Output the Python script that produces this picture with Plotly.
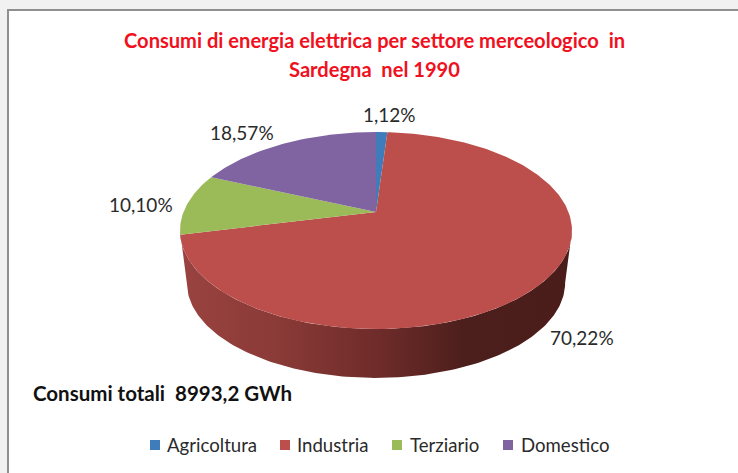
import numpy as np
import plotly.graph_objects as go

categories = ["Agricoltura", "Industria", "Terziario", "Domestico"]
values = [1.12, 70.22, 10.10, 18.57]
labels = ["1,12%", "70,22%", "10,10%", "18,57%"]
colors = ["#3f7cbc", "#bc4f4c", "#9bbb59", "#8064a2"]
title_lines = ["Consumi di energia elettrica per settore merceologico  in", "Sardegna  nel 1990"]
total_note = "Consumi totali  8993,2 GWh"

# projection of the tilted disc onto the page (pixels)
CX, CY, RX, RY, K = 376.0, 212.0, 192.5, 95.0, 0.188
DROP, SHRINK = 53.0, 0.965


def project(theta, scale=1.0, dy=0.0):
    u, v = np.sin(theta), np.cos(theta)
    d = 1 + K * v
    return CX + scale * RX * u / d, CY + dy - scale * RY * v / d


fig = go.Figure()

# side wall: front rim between the two widest points, extruded downward
widest = np.degrees(np.arccos(-K))
front = np.radians(np.linspace(widest, 360 - widest, 160))
xt, yt = project(front)
xb, yb = project(front, scale=SHRINK, dy=DROP)
fig.add_trace(go.Scatter(
    x=np.r_[xt, xb[::-1]], y=np.r_[yt, yb[::-1]], mode="lines", fill="toself",
    line=dict(width=0), hoverinfo="skip", showlegend=False,
    fillgradient=dict(type="horizontal", colorscale=[
        [0.0, "#9a4340"], [0.25, "#8a3a37"], [0.5, "#6f2c2a"],
        [0.72, "#4d1f1c"], [1.0, "#4a1d1a"]]),
))

# top face slices, clockwise from twelve o'clock
start = 0.0
shares = np.array(values) / sum(values)
for name, share, color in zip(categories, shares, colors):
    th = np.linspace(start, start + share, max(3, int(share * 400))) * 2 * np.pi
    x, y = project(th)
    fig.add_trace(go.Scatter(
        x=np.r_[CX, x, CX], y=np.r_[CY, y, CY], mode="lines", fill="toself",
        fillcolor=color, line=dict(width=0), name=name, hoverinfo="name", showlegend=False,
    ))
    start += share

# legend row: swatch and label for each category
LEGEND_Y = 445
legend_swatch_x = [155, 285, 397, 508]
legend_text_x = [165, 295, 408, 519]
fig.add_trace(go.Scatter(
    x=legend_swatch_x, y=[LEGEND_Y] * 4, mode="markers", hoverinfo="skip", showlegend=False,
    marker=dict(symbol="square", size=10, color=colors),
))
for name, tx in zip(categories, legend_text_x):
    fig.add_annotation(x=tx, y=LEGEND_Y, xanchor="left", text=name, showarrow=False,
                       font=dict(family="Lato", size=18.6, color="#2a2a2a"))

label_pos = [(389, 114), (582, 337), (141, 204), (242, 132)]
for text, (px, py) in zip(labels, label_pos):
    fig.add_annotation(x=px, y=py, text=text, showarrow=False,
                       font=dict(family="Lato", size=19, color="#2a2a2a"))

for line, py in zip(title_lines, (40, 69)):
    fig.add_annotation(x=374, y=py, text=line, showarrow=False,
                       font=dict(family="Lato", size=20.1, color="#f01020", weight="bold"))
fig.add_annotation(x=31, y=393, xanchor="left", text=total_note, showarrow=False,
                   font=dict(family="Lato", size=20.5, color="#111111", weight="bold"))

fig.update_layout(
    width=738, height=473, margin=dict(l=0, r=0, t=0, b=0), showlegend=False,
    paper_bgcolor="#f1f1f1", plot_bgcolor="#f1f1f1",
    xaxis=dict(range=[0, 738], visible=False, fixedrange=True),
    yaxis=dict(range=[473, 0], visible=False, fixedrange=True),
    shapes=[dict(type="rect", xref="x", yref="y", x0=8, y0=10, x1=745, y1=480,
                 fillcolor="#ffffff", line=dict(color="#8f8f8f", width=2), layer="below")],
)
fig.write_html("out.html", config={"displayModeBar": False},
               post_script="document.body.style.margin='0';")
